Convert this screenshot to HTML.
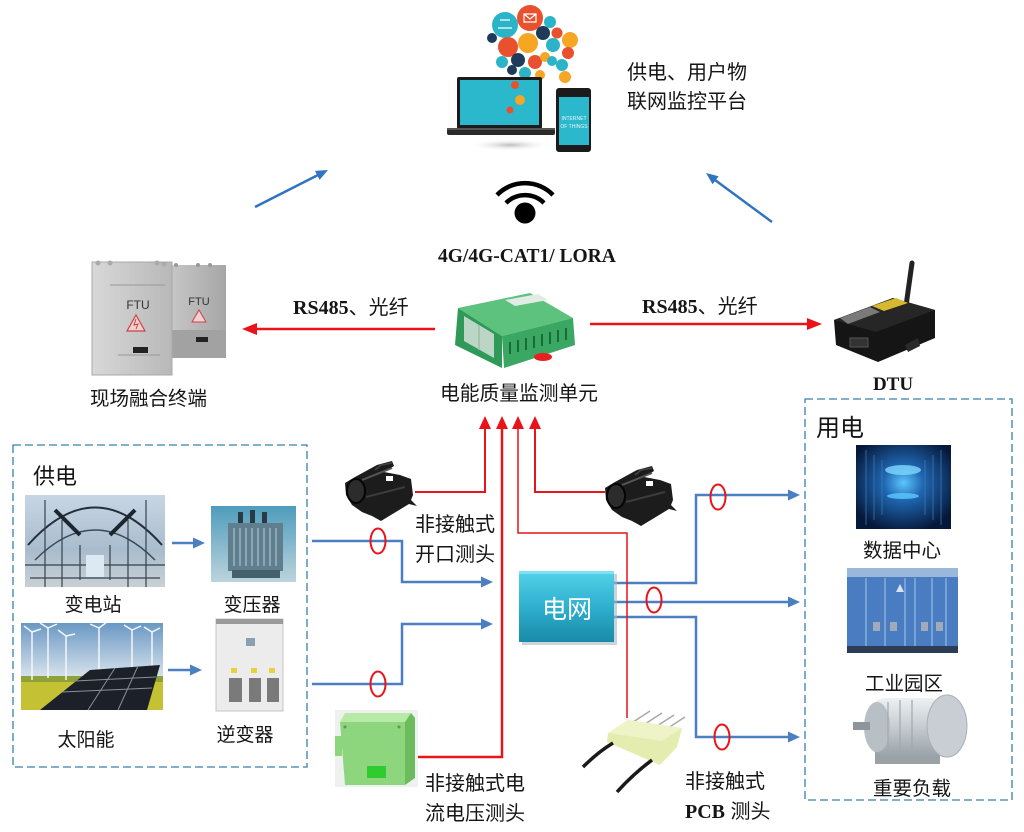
<!DOCTYPE html>
<html><head><meta charset="utf-8">
<style>
html,body{margin:0;padding:0;background:#fff;}
svg{display:block;}
.cn{font-family:"Liberation Sans","Noto Sans CJK SC",sans-serif;fill:#151515;}
.bs{font-family:"Liberation Serif","Noto Serif CJK SC",serif;font-weight:bold;fill:#151515;}
</style></head><body>
<svg width="1024" height="832" viewBox="0 0 1024 832" xmlns="http://www.w3.org/2000/svg">
<defs>
  <linearGradient id="gridg" x1="0" y1="0" x2="0" y2="1">
    <stop offset="0" stop-color="#55d2ea"/><stop offset="0.5" stop-color="#2fb0cf"/><stop offset="1" stop-color="#1a8aa8"/>
  </linearGradient>
  <linearGradient id="subg" x1="0" y1="0" x2="0" y2="1">
    <stop offset="0" stop-color="#c8d6e4"/><stop offset="0.6" stop-color="#a9bccd"/><stop offset="1" stop-color="#c9d0d4"/>
  </linearGradient>
  <linearGradient id="skyg" x1="0" y1="0" x2="0" y2="1">
    <stop offset="0" stop-color="#6a98c4"/><stop offset="0.6" stop-color="#d4e0ea"/><stop offset="1" stop-color="#e6ecee"/>
  </linearGradient>
  <linearGradient id="trg" x1="0" y1="0" x2="0" y2="1">
    <stop offset="0" stop-color="#4e9cbc"/><stop offset="1" stop-color="#bcd4dc"/>
  </linearGradient>
  <linearGradient id="ftu1" x1="0" y1="0" x2="1" y2="0">
    <stop offset="0" stop-color="#d8d8d8"/><stop offset="1" stop-color="#b8b8b8"/>
  </linearGradient>
  <linearGradient id="ftu2" x1="0" y1="0" x2="1" y2="0">
    <stop offset="0" stop-color="#c6c6c6"/><stop offset="1" stop-color="#a6a6a6"/>
  </linearGradient>
  <linearGradient id="motg" x1="0" y1="0" x2="0" y2="1">
    <stop offset="0" stop-color="#eef1f3"/><stop offset="0.5" stop-color="#c6ccd1"/><stop offset="1" stop-color="#9aa2aa"/>
  </linearGradient>
  <radialGradient id="dcg" cx="0.5" cy="0.45" r="0.6">
    <stop offset="0" stop-color="#5cc6ff"/><stop offset="0.35" stop-color="#1f66b0"/><stop offset="1" stop-color="#06183a"/>
  </radialGradient>
  <radialGradient id="shad" cx="0.5" cy="0.5" r="0.5">
    <stop offset="0" stop-color="#bdbdbd"/><stop offset="1" stop-color="#ffffff" stop-opacity="0"/>
  </radialGradient>
  <g id="clamp">
    <path d="M345,483 L355,477 L377,465 L392,461 L394,466 L384,472 L400,475 L411,479 L413,495 L411,500 L417,506 L409,504 L381,521 L372,516 L362,512 L352,505 L346,495 Z" fill="#1c1c1c"/>
    <ellipse cx="356" cy="491" rx="9" ry="12" fill="#2c2c2c" stroke="#050505" stroke-width="2"/>
    <path d="M362,480 L392,468" stroke="#555" stroke-width="2"/>
    <path d="M366,497 L405,487" stroke="#3c3c3c" stroke-width="2"/>
    <rect x="386" y="476" width="7" height="5" fill="#fff"/>
    <path d="M375,470 L381,465 L392,463" stroke="#444" stroke-width="1.5" fill="none"/>
  </g>
</defs>

<!-- ===== top platform ===== -->
<ellipse cx="510" cy="145" rx="42" ry="6" fill="url(#shad)"/>
<g>
  <circle cx="505" cy="25" r="13" fill="#2bb3c8"/>
  <circle cx="530" cy="18" r="13" fill="#e8502e"/>
  <circle cx="550" cy="22" r="6" fill="#2bb3c8"/>
  <circle cx="543" cy="33" r="7" fill="#1f3b5a"/>
  <circle cx="557" cy="33" r="5.5" fill="#e8502e"/>
  <circle cx="570" cy="40" r="8" fill="#f5a623"/>
  <circle cx="528" cy="43" r="10" fill="#f5a623"/>
  <circle cx="508" cy="47" r="10" fill="#e8502e"/>
  <circle cx="492" cy="38" r="5" fill="#1f3b5a"/>
  <circle cx="553" cy="45" r="7" fill="#2bb3c8"/>
  <circle cx="568" cy="53" r="6" fill="#e8502e"/>
  <circle cx="518" cy="60" r="7" fill="#1f3b5a"/>
  <circle cx="535" cy="62" r="7" fill="#e8502e"/>
  <circle cx="502" cy="62" r="6" fill="#2bb3c8"/>
  <circle cx="512" cy="70" r="5" fill="#1f3b5a"/>
  <circle cx="545" cy="57" r="5" fill="#f5a623"/>
  <circle cx="552" cy="61" r="5" fill="#2bb3c8"/>
  <circle cx="562" cy="65" r="6" fill="#2bb3c8"/>
  <circle cx="565" cy="77" r="6" fill="#f5a623"/>
  <circle cx="525" cy="73" r="6" fill="#2bb3c8"/>
  <circle cx="540" cy="75" r="5" fill="#f5a623"/>
  <path d="M500,20 l10,0 M498,28 l14,0" stroke="#fff" stroke-width="1.2"/>
  <path d="M524,14 l12,0 l0,8 l-12,0 z l6,5 l6,-5" stroke="#fff" stroke-width="1.2" fill="none"/>
</g>
<rect x="457" y="77" width="85" height="52" rx="2" fill="#1b1b1b"/>
<rect x="460" y="80" width="79" height="45" fill="#2bb7cc"/>
<circle cx="515" cy="85" r="4" fill="#e8502e"/>
<circle cx="520" cy="100" r="5" fill="#f5a623"/>
<circle cx="510" cy="110" r="3.5" fill="#e8502e"/>
<rect x="447" y="128" width="108" height="7" rx="2" fill="#2a2a2a"/>
<rect x="447" y="128" width="108" height="2" fill="#555"/>
<rect x="556" y="88" width="35" height="64" rx="3" fill="#1b1b1b"/>
<rect x="559" y="97" width="30" height="48" fill="#2bb7cc"/>
<text x="574" y="120" font-family="Liberation Sans,sans-serif" font-size="5" fill="#e8f8fa" text-anchor="middle">INTERNET</text>
<text x="574" y="128" font-family="Liberation Sans,sans-serif" font-size="5" fill="#e8f8fa" text-anchor="middle">OF THINGS</text>

<text class="cn" x="627" y="79" font-size="20">供电、用户物</text>
<text class="cn" x="627" y="108" font-size="20">联网监控平台</text>

<path d="M497,195 A39,39 0 0 1 553,195" stroke="#000" stroke-width="4.5" fill="none"/>
<path d="M506,203 A27,27 0 0 1 544,203" stroke="#000" stroke-width="4.5" fill="none"/>
<circle cx="525" cy="213" r="10.5" fill="#000"/>
<text class="bs" x="438" y="262" font-size="19.5">4G/4G-CAT1/ LORA</text>

<line x1="255" y1="207" x2="318" y2="175" stroke="#2f74c0" stroke-width="2.5"/>
<polygon points="319.6,179.9 328,170 315,170.9" fill="#2f74c0"/>
<line x1="772" y1="222" x2="715" y2="180" stroke="#2f74c0" stroke-width="2.5"/>
<polygon points="718.6,176.2 706,173 712.6,184.2" fill="#2f74c0"/>

<!-- ===== FTU ===== -->
<rect x="172" y="265" width="54" height="93" fill="url(#ftu2)"/>
<rect x="172" y="330" width="54" height="28" fill="#a2a2a2"/>
<circle cx="176" cy="265" r="2" fill="#999"/><circle cx="198" cy="265" r="2" fill="#999"/><circle cx="210" cy="265" r="2" fill="#999"/>
<text x="199" y="305" font-family="Liberation Sans,sans-serif" font-size="11" fill="#333" text-anchor="middle">FTU</text>
<polygon points="199,310 206,322 192,322" fill="#f0d0d0" stroke="#c44" stroke-width="1"/>
<rect x="196" y="337" width="12" height="5" fill="#222"/>
<rect x="92" y="262" width="80" height="113" fill="url(#ftu1)"/>
<rect x="92" y="262" width="80" height="113" fill="none" stroke="#a8a8a8" stroke-width="1"/>
<circle cx="98" cy="263" r="2.5" fill="#aaa"/><circle cx="110" cy="263" r="2.5" fill="#aaa"/><circle cx="157" cy="263" r="2.5" fill="#aaa"/><circle cx="164" cy="264" r="2.5" fill="#aaa"/>
<line x1="110" y1="285" x2="165" y2="285" stroke="#999" stroke-width="1"/>
<text x="138" y="309" font-family="Liberation Sans,sans-serif" font-size="12" fill="#333" text-anchor="middle">FTU</text>
<polygon points="136,315 145,331 127,331" fill="#f0d0d0" stroke="#c44" stroke-width="1.2"/>
<path d="M136,319 l-2,6 l4,-1 l-2,5" stroke="#c44" stroke-width="1" fill="none"/>
<rect x="133" y="347" width="15" height="6" fill="#222"/>
<line x1="118" y1="355" x2="160" y2="355" stroke="#999" stroke-width="1"/>
<text class="cn" x="90" y="405" font-size="19.5">现场融合终端</text>

<text class="bs" x="293" y="314" font-size="20">RS485<tspan class="cn" style="font-weight:normal">、光纤</tspan></text>
<line x1="256" y1="329" x2="435" y2="329" stroke="#e8141a" stroke-width="2.5"/>
<polygon points="257,323 242,329 257,335" fill="#e8141a"/>
<text class="bs" x="642" y="313" font-size="20">RS485<tspan class="cn" style="font-weight:normal">、光纤</tspan></text>
<line x1="590" y1="324" x2="808" y2="324" stroke="#e8141a" stroke-width="2.5"/>
<polygon points="807,318 822,324 807,330" fill="#e8141a"/>

<!-- ===== monitor unit ===== -->
<polygon points="458,308 530,293 573,318 502,336" fill="#5cc27e"/>
<polygon points="458,308 502,336 502,368 455,345" fill="#2f9a58"/>
<polygon points="502,336 573,318 575,345 504,368" fill="#3aa862"/>
<polygon points="464,316 494,334 494,358 464,341" fill="#bcd6c6"/>
<line x1="479" y1="325" x2="479" y2="350" stroke="#9ebcaa" stroke-width="1.5"/>
<polygon points="505,300 538,294 548,300 515,306" fill="#e0ece4"/>
<g stroke="#1b6b3a" stroke-width="2">
  <line x1="510" y1="342" x2="510" y2="354"/><line x1="518" y1="340" x2="518" y2="352"/><line x1="526" y1="338" x2="526" y2="350"/>
  <line x1="534" y1="336" x2="534" y2="348"/><line x1="542" y1="334" x2="542" y2="346"/><line x1="550" y1="332" x2="550" y2="344"/>
  <line x1="558" y1="330" x2="558" y2="342"/><line x1="566" y1="328" x2="566" y2="340"/>
</g>
<ellipse cx="543" cy="357" rx="9" ry="4" fill="#e82020"/>
<text class="cn" x="440" y="400" font-size="19.75">电能质量监测单元</text>

<!-- ===== DTU ===== -->
<line x1="906" y1="306" x2="912" y2="263" stroke="#222" stroke-width="5" stroke-linecap="round"/>
<polygon points="834,320 893,298 935,310 935,338 878,362 836,345" fill="#151515"/>
<polygon points="834,320 893,298 935,310 876,332" fill="#262626"/>
<polygon points="840,318 870,307 880,312 848,324" fill="#7a7a7a"/>
<polygon points="872,306 896,298 908,303 884,311" fill="#d8b830"/>
<rect x="850" y="338" width="18" height="9" fill="#333" stroke="#555" stroke-width="1"/>
<polygon points="905,345 918,338 920,346 908,352" fill="#2a2a2a"/>
<text class="bs" x="893" y="390" font-size="19" text-anchor="middle">DTU</text>

<!-- ===== supply box ===== -->
<rect x="13" y="445" width="294" height="322" fill="none" stroke="#3a7fa8" stroke-width="1.3" stroke-dasharray="8,4"/>
<text class="cn" x="33" y="484" font-size="22">供电</text>
<rect x="25" y="495" width="140" height="92" fill="url(#subg)"/>
<path d="M28,545 Q95,470 162,545" stroke="#23303c" stroke-width="2" fill="none"/>
<path d="M35,560 Q95,500 155,560" stroke="#3a4a58" stroke-width="1.5" fill="none"/>
<path d="M55,510 L80,535 M135,510 L110,535" stroke="#1c2630" stroke-width="4"/>
<g stroke="#34424e" stroke-width="1.2">
  <line x1="45" y1="500" x2="45" y2="587"/><line x1="62" y1="520" x2="62" y2="587"/><line x1="128" y1="520" x2="128" y2="587"/><line x1="146" y1="500" x2="146" y2="587"/>
  <line x1="25" y1="565" x2="165" y2="565"/><line x1="30" y1="578" x2="160" y2="578"/>
  <line x1="80" y1="545" x2="80" y2="580"/><line x1="110" y1="545" x2="110" y2="580"/>
</g>
<rect x="86" y="555" width="18" height="22" fill="#dce8f2"/>
<rect x="211" y="506" width="85" height="76" fill="url(#trg)"/>
<rect x="238" y="512" width="5" height="12" fill="#2a3a44"/><rect x="250" y="510" width="5" height="14" fill="#2a3a44"/><rect x="262" y="512" width="5" height="12" fill="#2a3a44"/>
<rect x="228" y="523" width="55" height="48" fill="#5f7f8e"/>
<g stroke="#9ab4c0" stroke-width="1.5">
  <line x1="234" y1="528" x2="234" y2="566"/><line x1="240" y1="528" x2="240" y2="566"/><line x1="246" y1="528" x2="246" y2="566"/><line x1="252" y1="528" x2="252" y2="566"/>
  <line x1="258" y1="528" x2="258" y2="566"/><line x1="264" y1="528" x2="264" y2="566"/><line x1="270" y1="528" x2="270" y2="566"/><line x1="276" y1="528" x2="276" y2="566"/>
</g>
<rect x="232" y="570" width="48" height="8" fill="#44606c"/>
<text class="cn" x="93" y="611" font-size="19" text-anchor="middle">变电站</text>
<text class="cn" x="252" y="611" font-size="19" text-anchor="middle">变压器</text>
<rect x="21" y="623" width="142" height="87" fill="url(#skyg)"/>
<rect x="21" y="676" width="142" height="34" fill="#c4c234"/>
<rect x="21" y="676" width="142" height="6" fill="#8fa23a"/>
<g stroke="#f4f6f8" stroke-width="1.5">
  <line x1="32" y1="632" x2="32" y2="680"/><line x1="48" y1="628" x2="48" y2="678"/><line x1="66" y1="636" x2="66" y2="680"/>
  <line x1="99" y1="628" x2="99" y2="676"/><line x1="132" y1="630" x2="132" y2="676"/><line x1="152" y1="632" x2="152" y2="676"/>
  <path d="M32,632 l-8,-6 M32,632 l9,-3 M48,628 l-8,-5 M48,628 l9,-4 M66,636 l-8,-6 M66,636 l9,-2 M99,628 l-9,-4 M99,628 l8,-6 M132,630 l-8,-5 M132,630 l9,-4 M152,632 l-8,-5 M152,632 l8,-4" fill="none"/>
</g>
<polygon points="40,710 90,670 160,665 147,710" fill="#1b2029"/>
<g stroke="#8a9098" stroke-width="1">
  <line x1="62" y1="692" x2="152" y2="688"/><line x1="75" y1="681" x2="156" y2="677"/>
  <line x1="88" y1="710" x2="115" y2="668"/><line x1="118" y1="710" x2="138" y2="666"/>
</g>
<rect x="216" y="619" width="67" height="92" fill="#ececec" stroke="#c4c4c4" stroke-width="1"/>
<rect x="216" y="619" width="67" height="5" fill="#9a9a9a"/>
<rect x="246" y="638" width="9" height="8" fill="#8aa0b0"/>
<rect x="229" y="678" width="13" height="24" fill="#7a7a7a"/><rect x="249" y="678" width="12" height="24" fill="#7a7a7a"/><rect x="267" y="678" width="12" height="24" fill="#7a7a7a"/>
<rect x="231" y="668" width="6" height="5" fill="#e8d040"/><rect x="251" y="668" width="6" height="5" fill="#e8d040"/><rect x="269" y="668" width="6" height="5" fill="#e8d040"/>
<text class="cn" x="86" y="746" font-size="19" text-anchor="middle">太阳能</text>
<text class="cn" x="245" y="741" font-size="19" text-anchor="middle">逆变器</text>
<line x1="172" y1="543" x2="194" y2="543" stroke="#4a7fc1" stroke-width="2.5"/>
<polygon points="193,537.5 205,543 193,548.5" fill="#4a7fc1"/>
<line x1="168" y1="670" x2="191" y2="670" stroke="#4a7fc1" stroke-width="2.5"/>
<polygon points="190,664.5 202,670 190,675.5" fill="#4a7fc1"/>

<!-- ===== blue wiring ===== -->
<g stroke="#4a7fc1" stroke-width="2.5" fill="none">
  <polyline points="312,541 402,541 402,582 482,582"/>
  <polyline points="312,684 402,684 402,624 482,624"/>
  <polyline points="614,583 696,583 696,495 789,495"/>
  <polyline points="614,602 789,602"/>
  <polyline points="614,617 696,617 696,737 789,737"/>
</g>
<g fill="#4a7fc1">
  <polygon points="481,576.5 493,582 481,587.5"/>
  <polygon points="481,618.5 493,624 481,629.5"/>
  <polygon points="788,489.5 800,495 788,500.5"/>
  <polygon points="788,596.5 800,602 788,607.5"/>
  <polygon points="788,731.5 800,737 788,742.5"/>
</g>
<g stroke="#e8141a" stroke-width="2" fill="none">
  <ellipse cx="378" cy="541" rx="7.5" ry="12.5"/>
  <ellipse cx="378" cy="684" rx="7.5" ry="12.5"/>
  <ellipse cx="718" cy="497" rx="7.5" ry="12.5"/>
  <ellipse cx="654" cy="600" rx="7.5" ry="12.5"/>
  <ellipse cx="722" cy="737" rx="7.5" ry="12.5"/>
</g>

<!-- ===== red probe lines ===== -->
<g stroke="#e8141a" fill="none">
  <polyline points="415,492 485,492 485,427" stroke-width="2"/>
  <polyline points="417,757 502,757 502,427" stroke-width="2.5"/>
  <polyline points="627,718 627,533 518,533 518,427" stroke-width="1.5"/>
  <polyline points="605,492 535,492 535,427" stroke-width="2"/>
</g>
<g fill="#e8141a">
  <polygon points="479,429 485,416 491,429"/>
  <polygon points="496,429 502,416 508,429"/>
  <polygon points="512,429 518,416 524,429"/>
  <polygon points="529,429 535,416 541,429"/>
</g>

<rect x="522" y="574" width="95" height="71" fill="#a8b8c0" opacity="0.6"/>
<rect x="519" y="571" width="95" height="71" fill="url(#gridg)"/>
<rect x="519" y="571" width="95" height="3" fill="#7ee2f2"/>
<text x="567" y="618" font-family="Liberation Sans,'Noto Sans CJK SC',sans-serif" font-size="25" fill="#fff" text-anchor="middle">电网</text>

<use href="#clamp"/>
<use href="#clamp" transform="translate(260,5)"/>
<text class="cn" x="415" y="531" font-size="20">非接触式</text>
<text class="cn" x="415" y="561" font-size="20">开口测头</text>

<rect x="335" y="710" width="83" height="77" fill="#eef2ee"/>
<polygon points="345,713 411,713 405,722 340,722" fill="#b6eaa6"/>
<polygon points="340,722 405,722 405,785 345,785" fill="#8ed67e"/>
<polygon points="405,722 411,713 415,718 415,778 405,785" fill="#6cbc5e"/>
<rect x="335" y="736" width="7" height="20" fill="#8ed67e"/>
<rect x="367" y="766" width="19" height="12" fill="#2ecc2e"/>
<circle cx="345" cy="727" r="1.5" fill="#5a9a50"/><circle cx="399" cy="727" r="1.5" fill="#5a9a50"/>
<text class="cn" x="425" y="790" font-size="20">非接触式电</text>
<text class="cn" x="425" y="820" font-size="20">流电压测头</text>

<g stroke="#a8a8a8" stroke-width="1.5">
  <line x1="633" y1="722" x2="650" y2="711"/><line x1="645" y1="724" x2="662" y2="713"/><line x1="657" y1="726" x2="674" y2="715"/><line x1="668" y1="728" x2="685" y2="717"/>
</g>
<polygon points="608,733 628,720 682,728 677,747 660,765 607,742" fill="#e4ecb0"/>
<polygon points="608,733 628,720 682,728 662,741" fill="#eef4c8"/>
<path d="M613,743 Q598,752 583,767" stroke="#1a1a1a" stroke-width="3.5" fill="none"/>
<path d="M652,760 Q632,775 617,792" stroke="#1a1a1a" stroke-width="3.5" fill="none"/>
<text class="cn" x="685" y="788" font-size="20">非接触式</text>
<text class="bs" x="685" y="818" font-size="20">PCB<tspan class="cn" style="font-weight:normal"> 测头</tspan></text>

<!-- ===== consumption box ===== -->
<rect x="805" y="399" width="207" height="401" fill="none" stroke="#3a7fa8" stroke-width="1.3" stroke-dasharray="8,4"/>
<text class="cn" x="816" y="436" font-size="24">用电</text>
<rect x="856" y="445" width="95" height="84" fill="url(#dcg)"/>
<g stroke="#3f7fc0" stroke-width="1" opacity="0.7">
  <line x1="866" y1="450" x2="866" y2="525"/><line x1="874" y1="455" x2="874" y2="520"/><line x1="882" y1="460" x2="882" y2="515"/>
  <line x1="941" y1="450" x2="941" y2="525"/><line x1="933" y1="455" x2="933" y2="520"/><line x1="925" y1="460" x2="925" y2="515"/>
</g>
<ellipse cx="903" cy="470" rx="18" ry="5" fill="#7fd8ff" opacity="0.8"/>
<ellipse cx="903" cy="496" rx="16" ry="3" fill="#5cc8ff" opacity="0.8"/>
<text class="cn" x="902" y="557" font-size="19.5" text-anchor="middle">数据中心</text>
<rect x="847" y="568" width="111" height="10" fill="#9ab8dc"/>
<rect x="847" y="577" width="111" height="70" fill="#4a7cc2"/>
<rect x="847" y="646" width="111" height="7" fill="#2c3c54"/>
<g stroke="#86aedc" stroke-width="1.5">
  <line x1="866" y1="578" x2="866" y2="646"/><line x1="885" y1="578" x2="885" y2="646"/><line x1="905" y1="578" x2="905" y2="646"/>
  <line x1="915" y1="578" x2="915" y2="646"/><line x1="932" y1="578" x2="932" y2="646"/><line x1="946" y1="578" x2="946" y2="646"/>
</g>
<rect x="873" y="622" width="7" height="9" fill="#a0aab8"/><rect x="890" y="622" width="7" height="9" fill="#a0aab8"/>
<rect x="921" y="622" width="7" height="9" fill="#a0aab8"/><rect x="936" y="622" width="7" height="9" fill="#a0aab8"/>
<polygon points="896,592 900,584 904,592" fill="#d8e4f0"/>
<text class="cn" x="904" y="690" font-size="19.5" text-anchor="middle">工业园区</text>
<rect x="875" y="752" width="65" height="12" fill="#9aa2a8"/>
<rect x="868" y="698" width="80" height="58" rx="18" fill="url(#motg)"/>
<ellipse cx="947" cy="726" rx="20" ry="31" fill="#c8ced3" stroke="#a8b0b6" stroke-width="1"/>
<ellipse cx="877" cy="727" rx="13" ry="25" fill="#b8bfc5"/>
<g stroke="#a0a8b0" stroke-width="1.2"><line x1="888" y1="702" x2="888" y2="752"/><line x1="900" y1="700" x2="900" y2="754"/><line x1="912" y1="700" x2="912" y2="754"/></g>
<rect x="853" y="722" width="17" height="8" fill="#8e969c"/>
<text class="cn" x="912" y="795" font-size="19.5" text-anchor="middle">重要负载</text>
</svg>
</body></html>
